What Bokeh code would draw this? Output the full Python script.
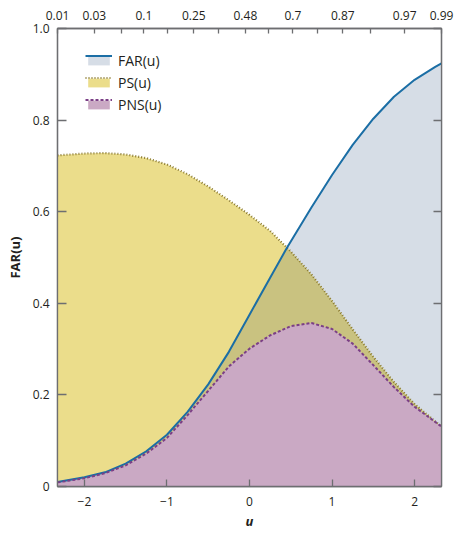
import numpy as np
from bokeh.plotting import figure
from bokeh.models import (Range1d, LinearAxis, FixedTicker, Legend, LegendItem,
                          ColumnDataSource)
from bokeh.embed import file_html
from bokeh.resources import INLINE

# ---- data ----
u = [-2.326, -2.0, -1.75, -1.5, -1.25, -1.0, -0.75, -0.5, -0.25, 0.0, 0.25, 0.45,
     0.5, 0.75, 1.0, 1.25, 1.5, 1.75, 2.0, 2.25, 2.326]
far = [0.010, 0.020, 0.031, 0.050, 0.077, 0.113, 0.163, 0.223, 0.294, 0.375, 0.456, 0.520,
       0.535, 0.609, 0.680, 0.746, 0.803, 0.851, 0.888, 0.916, 0.924]
ps = [0.723, 0.727, 0.728, 0.725, 0.717, 0.703, 0.682, 0.655, 0.625, 0.593, 0.558, 0.522,
      0.513, 0.463, 0.405, 0.343, 0.283, 0.228, 0.180, 0.142, 0.131]
pns = [0.009, 0.018, 0.029, 0.046, 0.072, 0.106, 0.156, 0.209, 0.262, 0.301, 0.330, 0.346,
       0.350, 0.357, 0.344, 0.312, 0.265, 0.217, 0.174, 0.141, 0.131]

x_ticks = [-2, -1, 0, 1, 2]
x_tick_labels = ["\u22122", "\u22121", "0", "1", "2"]
y_ticks = [0, 0.2, 0.4, 0.6, 0.8, 1.0]
y_tick_labels = ["0", "0.2", "0.4", "0.6", "0.8", "1.0"]
top_tick_u = [-2.326, -1.88, -1.28, -0.675, -0.05, 0.525, 1.13, 1.88, 2.326]
top_tick_labels = ["0.01", "0.03", "0.1", "0.25", "0.48", "0.7", "0.87", "0.97", "0.99"]
top_minor_u = [-1.555, -0.99, -0.375, 0.23, 0.825, 1.465]
series_names = ["FAR(u)", "PS(u)", "PNS(u)"]

FONT = "Open Sans"
TXT = "#231f20"
AX = "#6d6e71"

src = ColumnDataSource(dict(u=u, far=far, ps=ps, pns=pns,
                            both=np.minimum(np.array(far), np.array(ps)),
                            zero=[0.0] * len(u)))

p = figure(width=456, height=533,
           x_range=Range1d(u[0], u[-1]), y_range=Range1d(0, 1),
           output_backend="svg", toolbar_location=None,
           min_border_left=57, min_border_right=15, min_border_top=28, min_border_bottom=47)
p.xgrid.visible = False
p.ygrid.visible = False
p.outline_line_color = AX
p.outline_line_width = 1.3
p.background_fill_color = "white"

# fills
r_far_a = p.varea(x="u", y1="zero", y2="far", source=src, fill_color="#d6dde6")
r_ps_a = p.varea(x="u", y1="zero", y2="ps", source=src, fill_color="#ebdd8b")
p.varea(x="u", y1="zero", y2="both", source=src, fill_color="#c9c280")
r_pns_a = p.varea(x="u", y1="zero", y2="pns", source=src, fill_color="#caa9c4")

# lines
r_ps_l = p.line(x="u", y="ps", source=src, line_color="#8a7a30", line_width=2.2,
                line_dash="1 2")
r_far_l = p.line(x="u", y="far", source=src, line_color="#1b6ea5", line_width=2)
r_pns_l = p.line(x="u", y="pns", source=src, line_color="#7b3f86", line_width=2,
                 line_dash="3 2")


def style(ax, tin):
    ax.axis_line_color = AX
    ax.axis_line_width = 1.3
    ax.major_tick_line_color = AX
    ax.major_tick_line_width = 1.3
    ax.major_tick_in = tin
    ax.major_tick_out = 0
    ax.minor_tick_line_color = AX
    ax.minor_tick_line_width = 1.3
    ax.minor_tick_in = tin
    ax.minor_tick_out = 0
    ax.major_label_text_font = FONT
    ax.major_label_text_font_size = "12px"
    ax.major_label_text_color = TXT
    ax.axis_label_text_font = FONT
    ax.axis_label_text_color = TXT
    ax.axis_label_text_font_size = "13px"
    ax.axis_label_text_font_style = "bold"


# bottom axis
xa = p.xaxis[0]
xa.ticker = FixedTicker(ticks=x_ticks, minor_ticks=[])
xa.major_label_overrides = {t: l for t, l in zip(x_ticks, x_tick_labels)}
style(xa, 7)
xa.major_label_standoff = 10
xa.axis_label = "u"
xa.axis_label_text_font_style = "bold italic"
xa.axis_label_standoff = 3

# left axis
ya = p.yaxis[0]
ya.ticker = FixedTicker(ticks=y_ticks, minor_ticks=[])
ya.major_label_overrides = {t: l for t, l in zip(y_ticks, y_tick_labels)}
style(ya, 9)
ya.major_label_standoff = 8
ya.axis_label = "FAR(u)"
ya.axis_label_standoff = 6

# top axis (probabilities)
ta = LinearAxis(ticker=FixedTicker(ticks=top_tick_u, minor_ticks=top_minor_u))
ta.major_label_overrides = {t: l for t, l in zip(top_tick_u, top_tick_labels)}
style(ta, 5)
ta.major_label_standoff = 9
p.add_layout(ta, "above")

# right axis
ra = LinearAxis(ticker=FixedTicker(ticks=y_ticks, minor_ticks=[]))
style(ra, 8)
ra.major_label_standoff = 0
ra.major_label_text_font_size = "0px"
ra.major_label_text_alpha = 0
p.add_layout(ra, "right")


def make_legend(items, loc):
    lg = Legend(items=items, location=loc)
    lg.glyph_width = 27
    lg.glyph_height = 11
    lg.label_height = 19
    lg.spacing = 3
    lg.padding = 0
    lg.margin = 0
    lg.label_standoff = 6
    lg.label_text_font = FONT
    lg.label_text_font_size = "14px"
    lg.label_text_color = TXT
    lg.border_line_alpha = 0
    lg.background_fill_alpha = 0
    return lg


# patches with labels
p.add_layout(make_legend([
    LegendItem(label=series_names[0], renderers=[r_far_a]),
    LegendItem(label=series_names[1], renderers=[r_ps_a]),
    LegendItem(label=series_names[2], renderers=[r_pns_a]),
], (28, 372)))
# line samples along the top edge of each patch
p.add_layout(make_legend([
    LegendItem(label=" ", renderers=[r_far_l]),
    LegendItem(label=" ", renderers=[r_ps_l]),
    LegendItem(label=" ", renderers=[r_pns_l]),
], (28, 377)))

open("out.html", "w").write(file_html(p, INLINE))
